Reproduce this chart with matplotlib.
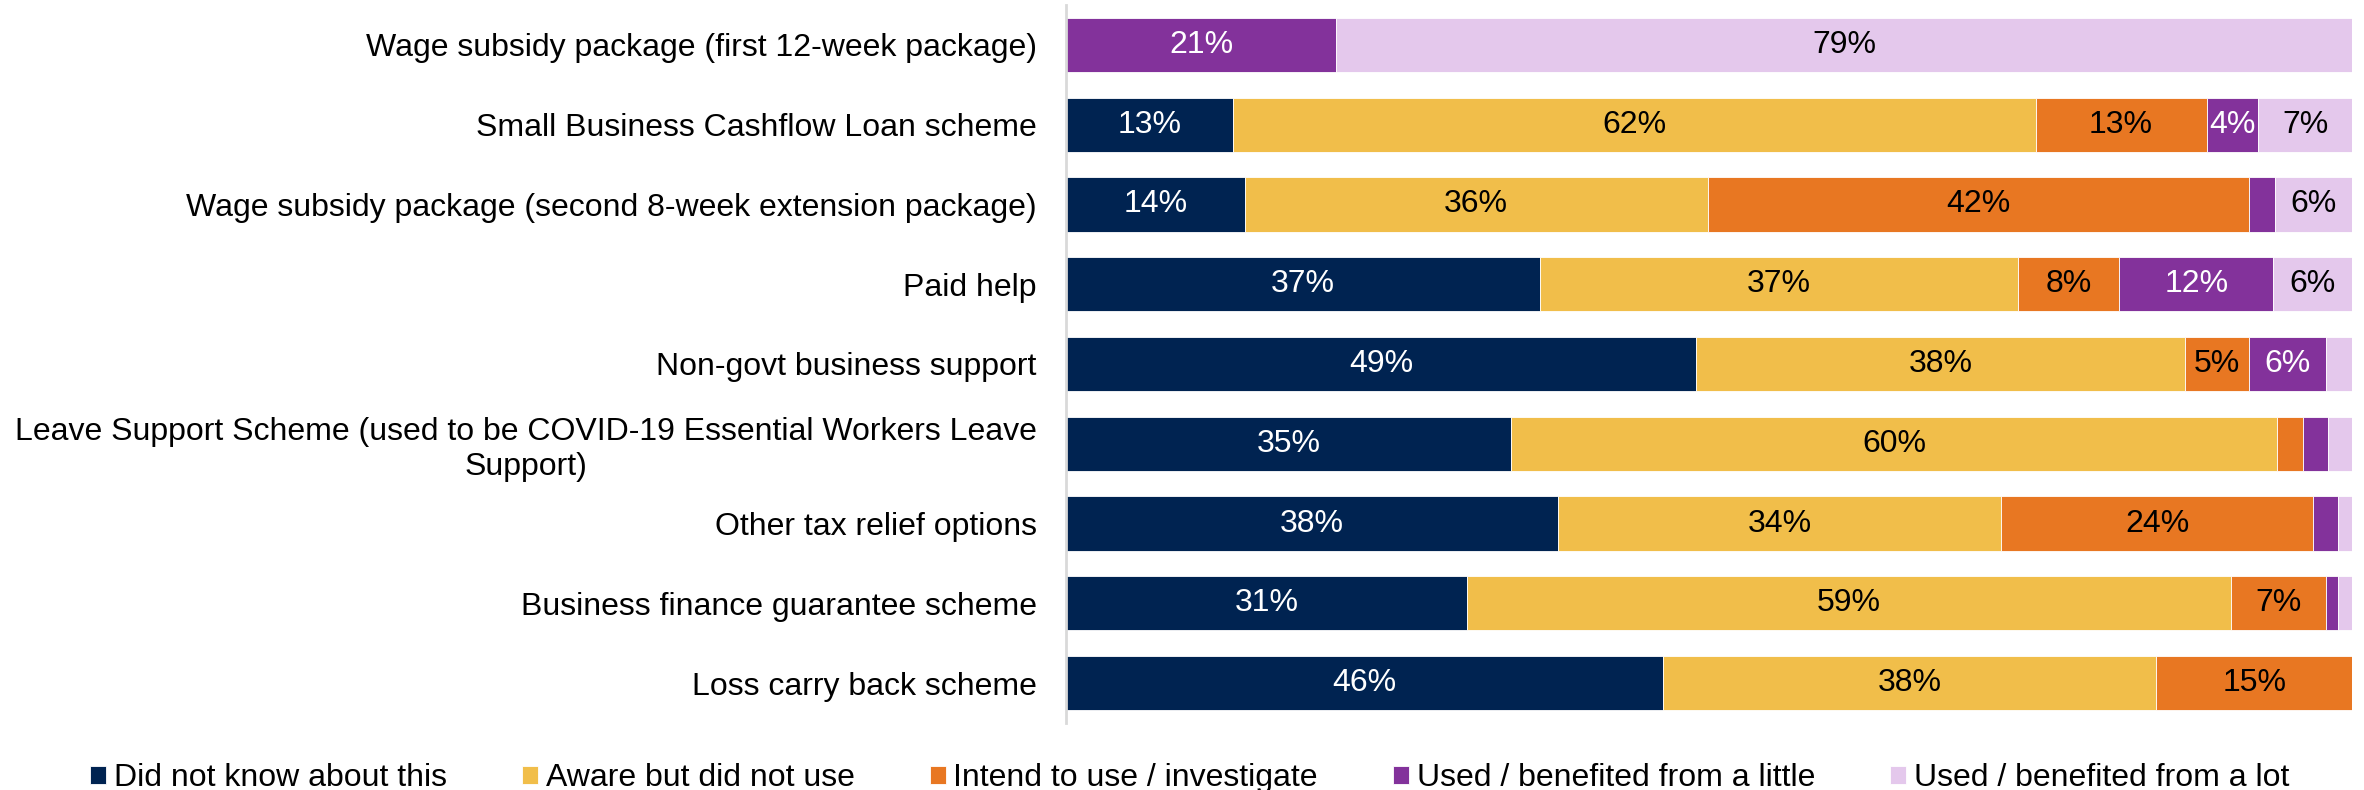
import numpy as np
import matplotlib.pyplot as plt

plt.rcParams['font.family'] = ['Liberation Sans', 'DejaVu Sans']

schemes = [
    "Wage subsidy package (first 12-week package)",
    "Small Business Cashflow Loan scheme",
    "Wage subsidy package (second 8-week extension package)",
    "Paid help",
    "Non-govt business support",
    "Leave Support Scheme (used to be COVID-19 Essential Workers Leave\nSupport)",
    "Other tax relief options",
    "Business finance guarantee scheme",
    "Loss carry back scheme",
]

categories = [
    "Did not know about this",
    "Aware but did not use",
    "Intend to use / investigate",
    "Used / benefited from a little",
    "Used / benefited from a lot",
]

# percentages per scheme, one list per response category
did_not_know = [0, 13.0, 13.9, 36.9, 49.0, 34.6, 38.3, 31.2, 46.4]
aware_not_used = [0, 62.4, 36.0, 37.1, 38.0, 59.6, 34.4, 59.4, 38.4]
intend_to_use = [0, 13.3, 42.1, 7.9, 5.0, 2.0, 24.3, 7.4, 15.2]
used_little = [21.0, 4.0, 2.0, 12.0, 6.0, 1.9, 1.9, 0.9, 0]
used_lot = [79.0, 7.3, 6.0, 6.1, 2.0, 1.9, 1.1, 1.1, 0]

series = [did_not_know, aware_not_used, intend_to_use, used_little, used_lot]
colors = ['#002351', '#F1BE4A', '#E87722', '#83329B', '#E4C8EC']
text_colors = ['white', 'black', 'black', 'white', 'black']

fig = plt.figure(figsize=(23.64, 7.9), dpi=100)
ax = fig.add_axes([0.4509, 0.0848, 0.5440, 0.9089])

y = np.arange(len(schemes))
left = np.zeros(len(schemes))
for vals, col, tcol, name in zip(series, colors, text_colors, categories):
    vals = np.array(vals)
    ax.barh(y, vals, left=left, height=0.68, color=col, edgecolor='white',
            linewidth=0.6, label=name)
    for yi, (l, v) in enumerate(zip(left, vals)):
        if v >= 3.5:
            ax.text(l + v / 2, yi, f"{v:.0f}%", ha='center', va='center',
                    color=tcol, fontsize=23)
    left += vals

ax.set_xlim(0, 100)
ax.set_ylim(len(schemes) - 0.5, -0.5)
ax.set_yticks(y)
ax.set_yticklabels(schemes, fontsize=23)
ax.get_yticklabels()[5].set_multialignment('center')
ax.tick_params(axis='y', length=0, pad=21)
ax.set_xticks([])
for s in ['top', 'right', 'bottom']:
    ax.spines[s].set_visible(False)
ax.spines['left'].set_color('#D9D9D9')
ax.spines['left'].set_linewidth(2)

fig.legend(loc='center left', bbox_to_anchor=(0.0325, 0.015), ncol=5,
           frameon=False, fontsize=23, handlelength=0.5, handleheight=0.5,
           handletextpad=0.25, columnspacing=2.35, borderaxespad=0)

fig.savefig('out.png', dpi=100)
